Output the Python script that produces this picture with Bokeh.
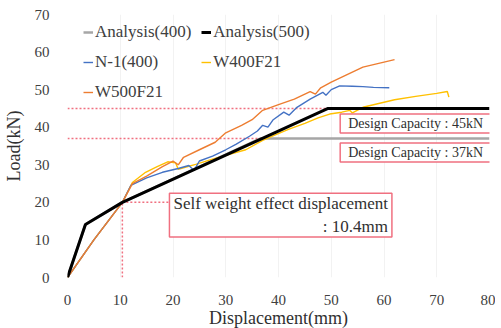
from bokeh.plotting import figure
from bokeh.models import Legend, LegendItem, Label, Range1d, FixedTicker
from bokeh.embed import file_html
from bokeh.resources import INLINE

# ---- data ----
an400_x = [0, 3.4, 10.4, 36.6, 80]
an400_y = [0, 14.1, 20, 37, 37]
an500_x = [0, 3.4, 10.4, 49.4, 80]
an500_y = [0, 14.1, 20, 45, 45]
n1_x = [0, 5, 10.4, 12, 15, 18, 21, 23, 24, 25, 27.5, 30, 32, 34.5, 36, 37, 38, 39, 41, 42, 43.5,
        46, 48.4, 49, 50, 51.6, 54, 56, 58, 61]
n1_y = [0, 10, 20, 24.5, 26.5, 28, 29, 29.8, 28.5, 31, 32.3, 34, 35.5, 37.6, 39, 40.5, 40, 42, 44, 43.2, 45.3,
        47.5, 49.3, 48.5, 50, 51, 50.9, 50.8, 50.6, 50.5]
w400_x = [0, 5, 10.4, 12.3, 14.8, 17, 19, 20.5, 21, 22, 24.3, 27.5, 30, 33.8, 37, 39.5, 42, 45, 47.5,
          49.7, 52, 53.5, 54, 56, 59, 62, 66, 70, 72, 72.3]
w400_y = [0, 10, 20, 25.3, 28, 29.5, 30.8, 30.5, 28.8, 29.2, 30.1, 31.5, 32.5, 34, 36.5, 38, 39.5, 41, 42.5,
          43.5, 44, 44.5, 43.8, 45.3, 46.3, 47.3, 48.2, 49, 49.5, 48]
w500_x = [0, 5, 10.4, 12.3, 15, 18, 20, 21, 22, 25, 28, 30, 33, 35, 37, 40, 43, 46, 47, 48, 50, 53,
          56, 59, 62]
w500_y = [0, 10, 20, 25, 27, 29.5, 31, 30, 32, 34, 36, 38.5, 40.5, 42, 44.5, 46, 47.5, 49.5, 48.8, 50.5,
          52, 54, 56, 57, 58]
x_ticks = [0, 10, 20, 30, 40, 50, 60, 70, 80]
y_ticks = [0, 10, 20, 30, 40, 50, 60, 70]
cap45 = 45
cap37 = 37
self_disp = 10.4
self_load = 20

FONT = "Liberation Serif"
p = figure(frame_width=422, frame_height=263, output_backend="svg", toolbar_location=None,
           x_range=Range1d(0, 80), y_range=Range1d(0, 70), min_border_left=57,
           min_border_top=14, min_border_right=6, min_border_bottom=0)
p.outline_line_color = None
p.background_fill_color = "white"
p.xgrid.grid_line_color = "#f2f2f2"
p.ygrid.grid_line_color = None
p.xaxis.ticker = FixedTicker(ticks=x_ticks)
p.yaxis.ticker = FixedTicker(ticks=y_ticks)
for ax in (p.xaxis[0], p.yaxis[0]):
    ax.axis_line_color = None
    ax.major_tick_line_color = None
    ax.minor_tick_line_color = None
    ax.major_label_text_font = FONT
    ax.major_label_text_font_size = "15px"
    ax.major_label_text_color = "#404040"
    ax.axis_label_text_font = FONT
    ax.axis_label_text_font_style = "normal"
    ax.axis_label_text_font_size = "18px"
    ax.axis_label_text_color = "#303030"
p.xaxis.axis_label = "Displacement(mm)"
p.yaxis.axis_label = "Load(kN)"
p.xaxis.major_label_standoff = 11
p.yaxis.major_label_standoff = 12
p.xaxis.axis_label_standoff = 0
p.yaxis.axis_label_standoff = 8

RED = "#f07080"
# reference lines
p.line([0, an500_x[3]], [cap45, cap45], line_color=RED, line_dash="2 2", line_width=1.5)
p.line([0, an400_x[3]], [cap37, cap37], line_color=RED, line_dash="2 2", line_width=1.5)
p.line([self_disp, self_disp], [0, self_load], line_color=RED, line_dash="2 2", line_width=1.5)
p.line([self_disp, 20], [self_load, self_load], line_color=RED, line_dash="2 2", line_width=1.5)

r_a4 = p.line(an400_x, an400_y, line_color="#a6a6a6", line_width=2.5)
r_w4 = p.line(w400_x, w400_y, line_color="#ffc000", line_width=1.4)
r_n1 = p.line(n1_x, n1_y, line_color="#4472c4", line_width=1.4)
r_w5 = p.line(w500_x, w500_y, line_color="#ed7d31", line_width=1.4)
r_a5 = p.line(an500_x, an500_y, line_color="black", line_width=3)

legend = Legend(items=[
    LegendItem(label="Analysis(400)", renderers=[r_a4]),
    LegendItem(label="Analysis(500)", renderers=[r_a5]),
    LegendItem(label="N-1(400)", renderers=[r_n1]),
    LegendItem(label="W400F21", renderers=[r_w4]),
    LegendItem(label="W500F21", renderers=[r_w5]),
], orientation="horizontal", ncols=2, location=(16, 175))
legend.background_fill_alpha = 0
legend.border_line_color = None
legend.label_text_font = FONT
legend.label_text_font_size = "17px"
legend.label_text_color = "#404040"
legend.glyph_width = 10
legend.label_standoff = 2
legend.spacing = 10
legend.padding = 0
legend.margin = 0
legend.label_height = 14
p.add_layout(legend)

for txt, yy in ((f"Design Capacity : {cap45}kN", 41), (f"Design Capacity : {cap37}kN", 33.3)):
    p.add_layout(Label(x=66, y=yy, text=txt, text_align="center", text_baseline="middle",
                       text_font=FONT, text_font_size="14px", text_color="#303030",
                       border_line_color=RED, border_line_width=1.5,
                       background_fill_color="white", padding=(8, 2)))
p.add_layout(Label(x=61.5, y=16.6, text="Self weight effect displacement\n: 10.4mm",
                   text_align="right", text_baseline="middle",
                   text_font=FONT, text_font_size="17px", text_color="#303030",
                   border_line_color=RED, border_line_width=1.5,
                   background_fill_color="white", padding=(4, 1)))

open("out.html", "w").write(file_html(p, INLINE))
